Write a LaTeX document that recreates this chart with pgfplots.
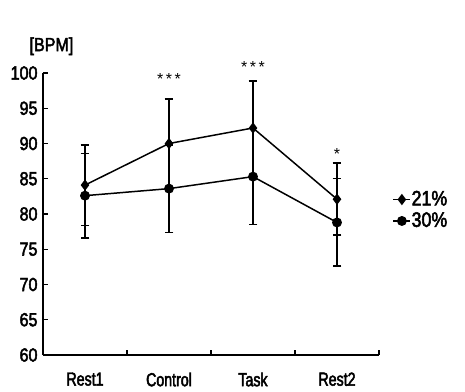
\documentclass[border=0pt]{standalone}
\usepackage{fontspec}
\setmainfont{Liberation Sans}[FakeStretch=0.85,FakeBold=2.5]
\newfontfamily\narrowfont{Liberation Sans}[FakeStretch=0.75,FakeBold=2.5]
\newfontfamily\starfont{Liberation Sans}
\usepackage{pgfplots}
\pgfplotsset{compat=1.18}
\pgfplotstableread{
x y e
0.5 84.1 5.7
1.5 90.0 6.3
2.5 92.2 6.7
3.5 82.1 5.1
}\tabA
\pgfplotstableread{
x y e
0.5 82.6 6.0
1.5 83.6 6.2
2.5 85.3 6.8
3.5 78.8 6.2
}\tabB
\begin{document}
\fontsize{19}{22}\selectfont
\begin{tikzpicture}
\useasboundingbox (-43bp,-37bp) rectangle (422bp,355bp);
\begin{axis}[
 at={(0,0)}, anchor=south west,
 scale only axis, width=336bp, height=282bp,
 xmin=0, xmax=4, ymin=60, ymax=100,
 axis lines=left, axis line style={-, line width=1.3pt},
 ytick={60,65,...,100},
 xtick={1,2,3,4}, xticklabels={\empty,\empty,\empty,\empty},
 extra x ticks={0.5,1.5,2.5,3.5},
 extra x tick labels={Rest1,Control,Task,Rest2},
 extra x tick style={major tick length=0pt},
 tick align=inside,
 major tick length=5bp,
 tick style={line width=1.1pt, black},
 /pgf/number format/assume math mode=true,
 ticklabel style={font=\fontsize{19}{22}\selectfont},
 xticklabel style={yshift=-11bp, font=\narrowfont\fontsize{19}{22}\selectfont},
 yticklabel style={xshift=1bp},
 clip=false,
 legend style={at={(rel axis cs:1.04,0.59)}, anchor=north west, draw=none, fill=none,
   font=\fontsize{21}{23}\selectfont, row sep=0bp, inner sep=0pt,
   nodes={inner xsep=0.5bp}},
 legend cell align=left,
]
\addplot[black, line width=1.5pt, mark=diamond*, mark size=4.5pt,
  error bars/.cd, y dir=both, y explicit,
  error bar style={line width=1.5pt},
  error mark options={rotate=90, mark size=4.5pt, line width=1.5pt}]
  table[x=x, y=y, y error=e]{\tabA};
\addlegendentry{21\%}
\addplot[black, line width=1.5pt, mark=*, mark size=4.2pt,
  error bars/.cd, y dir=both, y explicit,
  error bar style={line width=1.5pt},
  error mark options={rotate=90, mark size=4.5pt, line width=1.5pt}]
  table[x=x, y=y, y error=e]{\tabB};
\addlegendentry{30\%}
\node[font=\fontsize{19}{22}\selectfont] at (axis cs:0.1,103.8) {[BPM]};
\node[font=\starfont\fontsize{16}{18}\selectfont] at (axis cs:1.5,99.1) {*\hspace{2.5bp}*\hspace{2.5bp}*};
\node[font=\starfont\fontsize{16}{18}\selectfont] at (axis cs:2.5,100.9) {*\hspace{2.5bp}*\hspace{2.5bp}*};
\node[font=\starfont\fontsize{16}{18}\selectfont] at (axis cs:3.5,88.5) {*};
\end{axis}
\end{tikzpicture}
\end{document}
